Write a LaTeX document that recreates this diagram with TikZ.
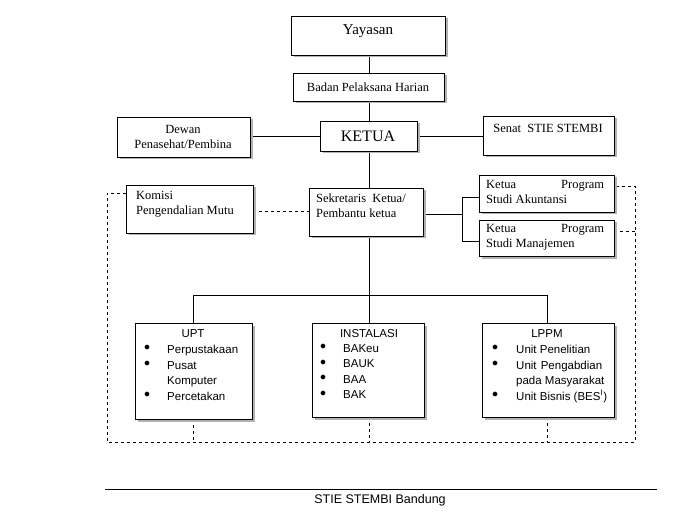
\documentclass[tikz,border=0pt]{standalone}
\usepackage{fontspec}
\setmainfont{Liberation Serif}
\newfontfamily\arialf{Liberation Sans}
\usetikzlibrary{shadows}
\begin{document}
\begin{tikzpicture}[x=1pt,y=-1pt,
 bx/.style={draw,fill=white,line width=0.8pt,drop shadow={shadow xshift=2.5pt,shadow yshift=-2.5pt,fill=gray!60,opacity=1}},
 dl/.style={dashed,line width=0.6pt},
 sl/.style={line width=0.6pt},
 t/.style={font=\fontsize{12.5}{15}\selectfont},
 s/.style={font=\arialf\fontsize{11.5}{15.5}\selectfont,anchor=north west,inner sep=0}]
\useasboundingbox (0,0) rectangle (684,518);
% solid connectors behind
\coordinate (top) at (369,55);
\coordinate (hb) at (369,295);
\draw[sl] (top) -- (hb);
\draw[sl] (250,136) -- (483,136);
\draw[sl] (193,295) -- (547,295);
\draw[sl] (193,295) -- (193,323);
\draw[sl] (369,295) -- (369,323);
\draw[sl] (547,295) -- (547,323);
\draw[sl] (423,214) -- (462,214);
\draw[sl] (479,197) -- (462,197) -- (462,241) -- (479,241);
% dashed
\draw[dl] (253,211) -- (309,211);
\draw[dl] (126,193) -- (107,193) -- (107,442) -- (635,442) -- (635,186) -- (614,186);
\draw[dl] (614,231) -- (635,231);
\draw[dl] (193,419) -- (193,442);
\draw[dl] (369,417) -- (369,442);
\draw[dl] (547,417) -- (547,442);
% boxes
\draw[bx] (291,16) rectangle (445,55);
\node[font=\fontsize{15}{17}\selectfont] (yay) at (368,31) {Yayasan};
\draw[bx] (293,73) rectangle (444,101);
\node[t] (bph) at (368,87) {Badan Pelaksana Harian};
\draw[bx] (320,121) rectangle (417,151);
\node[font=\fontsize{16}{18}\selectfont] (ket) at (368,136) {KETUA};
\draw[bx] (117,117) rectangle (250,157);
\node[t,align=center] (dew) at (183,137) {Dewan\\Penasehat/Pembina};
\draw[bx] (483,116) rectangle (614,155);
\node[t] (sen) at (548,128) {Senat~ STIE STEMBI};
\draw[bx] (126,185) rectangle (253,233);
\node[t,align=left,anchor=north west,inner sep=0] (kom) at (136,191) {Komisi\\Pengendalian Mutu};
\draw[bx] (309,188) rectangle (423,236);
\node[t,align=left,anchor=north west,inner sep=0] (sek) at (316,194) {Sekretaris~ Ketua/\\Pembantu ketua};
\draw[bx] (479,175) rectangle (614,212);
\node[t,align=left,anchor=north west,inner sep=0] (ak) at (486,180) {\makebox[118pt][l]{Ketua\hfill Program}\\Studi Akuntansi};
\draw[bx] (479,220) rectangle (614,256);
\node[t,align=left,anchor=north west,inner sep=0] (mj) at (486,224) {\makebox[118pt][l]{Ketua\hfill Program}\\Studi Manajemen};
% bottom boxes
\draw[bx] (135,323) rectangle (252,419);
\node[s,anchor=north] (upt) at (193,329) {UPT};
\node[s,align=left] at (144,345) {$\bullet$\\$\bullet$\\[15.5pt]$\bullet$};
\node[s,align=left] (uptl) at (167,345) {Perpustakaan\\Pusat\\Komputer\\Percetakan};
\draw[bx] (312,323) rectangle (424,417);
\node[s,anchor=north] (ins) at (369,329) {INSTALASI};
\node[s,align=left] at (320,344) {$\bullet$\\$\bullet$\\$\bullet$\\$\bullet$};
\node[s,align=left] (insl) at (343,344) {BAKeu\\BAUK\\BAA\\BAK};
\draw[bx] (482,323) rectangle (614,417);
\node[s,anchor=north] (lp) at (547,329) {LPPM};
\node[s,align=left] at (492,345) {$\bullet$\\$\bullet$\\[15.5pt]$\bullet$};
\node[s,align=left] (lpl) at (516,345) {Unit Penelitian\\\makebox[86pt][l]{Unit\hfill Pengabdian}\\pada Masyarakat\\Unit Bisnis (BES\textsuperscript{I})};
% footer
\draw[line width=1pt] (105,489) -- (657,489);
\node[font=\arialf\fontsize{12.5}{14}\selectfont] (ft) at (380,500) {STIE STEMBI Bandung};
\end{tikzpicture}
\end{document}
